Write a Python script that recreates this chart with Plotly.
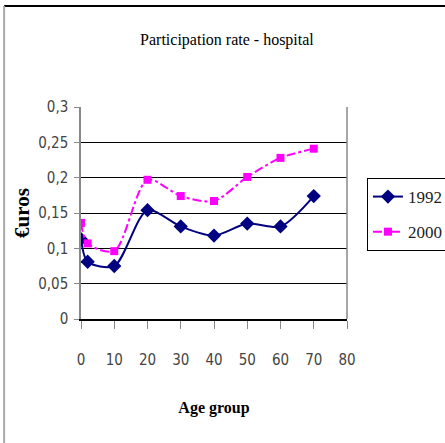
import plotly.graph_objects as go

age = [0, 2, 10, 20, 30, 40, 50, 60, 70]
rate_1992 = [0.113, 0.081, 0.075, 0.154, 0.131, 0.118, 0.135, 0.131, 0.174]
rate_2000 = [0.136, 0.107, 0.096, 0.197, 0.174, 0.167, 0.201, 0.228, 0.241]
x_ticks = [0, 10, 20, 30, 40, 50, 60, 70, 80]
y_ticks = [0, 0.05, 0.1, 0.15, 0.2, 0.25, 0.3]

serif = "Liberation Serif, Times New Roman, serif"
narrow = "DejaVu Sans Condensed, Liberation Sans Narrow, Arial Narrow, sans-serif"

fig = go.Figure()
fig.add_trace(go.Scatter(
    x=age, y=rate_1992, name="1992", mode="lines+markers", legendgroup="a",
    line=dict(color="#000080", width=2, shape="spline", smoothing=0.8),
    marker=dict(symbol="diamond", size=11, color="#000080"),
))
fig.add_trace(go.Scatter(
    x=age, y=rate_2000, name="2000", mode="lines+markers", legendgroup="b",
    line=dict(color="#FF00FF", width=2, dash="dashdot", shape="spline", smoothing=0.8),
    marker=dict(symbol="square", size=8, color="#FF00FF"),
))

fig.update_layout(
    width=445, height=443,
    margin=dict(l=81, r=98, t=107, b=124, autoexpand=False),
    paper_bgcolor="white", plot_bgcolor="white",
    separators=", ",
    showlegend=True,
    title=dict(text="Participation rate - hospital", x=0.51, xanchor="center",
               y=0.91, yanchor="middle",
               font=dict(family=serif, size=16, color="black")),
    legend=dict(x=1.075, xanchor="left", y=0.665, yanchor="top",
                bordercolor="black", borderwidth=1, bgcolor="white",
                font=dict(family=serif, size=17, color="#222"),
                itemwidth=30, tracegroupgap=10),
    xaxis=dict(range=[0, 80], tickvals=x_ticks, showgrid=False, zeroline=False,
               automargin=False,
               showline=True, linecolor="black", linewidth=1.5,
               ticks="outside", ticklen=8, tickcolor="#888", tickwidth=1,
               ticklabelstandoff=18,
               tickfont=dict(family=narrow, size=15, color="#444"),
               title=dict(text="<b>Age group</b>", standoff=34,
                          font=dict(family=serif, size=16, color="black"))),
    yaxis=dict(range=[0, 0.3], tickvals=y_ticks, showgrid=True, gridcolor="black",
               gridwidth=1, zeroline=False, automargin=False,
               showline=True, linecolor="#888", linewidth=1.5,
               ticks="outside", ticklen=5, tickcolor="#888",
               ticklabelstandoff=3,
               tickfont=dict(family=narrow, size=15, color="#444"),
               title=dict(text="<b>€uros</b>", standoff=3,
                          font=dict(family=serif, size=21, color="black"))),
    shapes=[
        dict(type="line", xref="paper", yref="paper", x0=1, x1=1, y0=0, y1=1,
             line=dict(color="#888", width=1.5)),
        dict(type="line", xref="paper", yref="paper", x0=-0.289, x1=1.37, y0=1.476, y1=1.476,
             line=dict(color="black", width=2)),
        dict(type="line", xref="paper", yref="paper", x0=-0.289, x1=-0.289, y0=1.476, y1=-0.59,
             line=dict(color="#aaa", width=2)),
    ],
)

fig.write_html("out.html", config={"displayModeBar": False},
               post_script="document.body.style.margin='0';")
